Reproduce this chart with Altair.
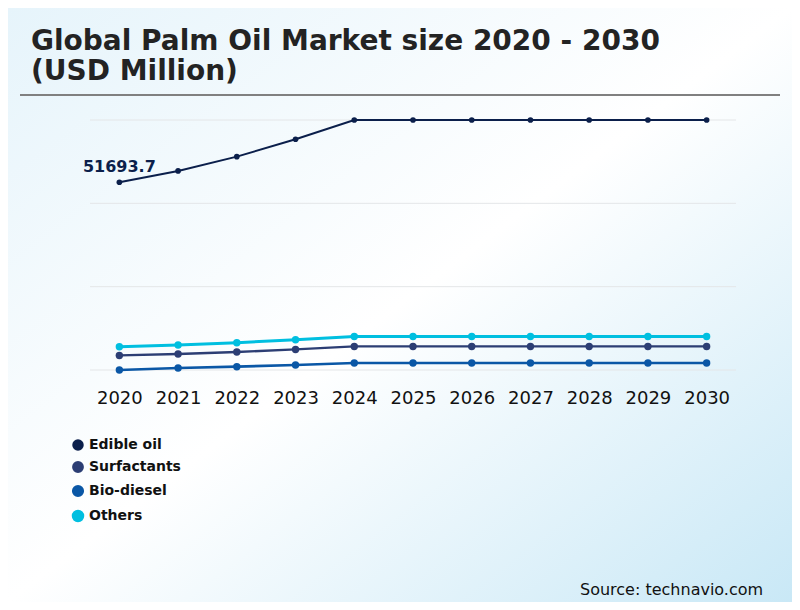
import altair as alt
import pandas as pd

years = ["2020", "2021", "2022", "2023", "2024", "2025", "2026", "2027", "2028", "2029", "2030"]
segments = ["Edible oil", "Surfactants", "Bio-diesel", "Others"]
edible_oil = [51693.7, 54695, 58476, 63076, 68179, 68179, 68179, 68179, 68179, 68179, 68179]
surfactants = [5860, 6230, 6759, 7447, 8240, 8240, 8240, 8240, 8240, 8240, 8240]
bio_diesel = [2000, 2529, 2873, 3322, 3851, 3851, 3851, 3851, 3851, 3851, 3851]
others = [8161, 8610, 9218, 10011, 10884, 10884, 10884, 10884, 10884, 10884, 10884]
colors = ["#0b1f4b", "#2c3e74", "#0a57a6", "#00bfe0"]
widths = [2, 3, 3, 3]
grid_values = [2000, 24060, 46120, 68180]

title_lines = ["Global Palm Oil Market size 2020 - 2030", "(USD Million)"]
source_text = "Source: technavio.com"

series = {"Edible oil": edible_oil, "Surfactants": surfactants,
          "Bio-diesel": bio_diesel, "Others": others}
rows = []
for seg, vals in series.items():
    for y, v in zip(years, vals):
        rows.append({"year": y, "segment": seg, "value": v})
df = pd.DataFrame(rows)
label_df = df[(df.segment == "Edible oil") & (df.year == "2020")]
grid_df = pd.DataFrame({"value": grid_values})

W, H = 646, 250
PL, PT, PR, PB = 82, 112, 56, 232

x_enc = alt.X("year:O", sort=years,
              scale=alt.Scale(type="point", padding=0.5),
              axis=alt.Axis(title=None, labelAngle=0, ticks=False, domain=False,
                            labelFontSize=18, labelColor="#111111", labelPadding=19,
                            labelFont="DejaVu Sans", grid=False, zindex=1))
y_scale = alt.Scale(domain=[grid_values[0], grid_values[-1]], nice=False, zero=False)
y_enc = alt.Y("value:Q", scale=y_scale, axis=None)
color_enc = alt.Color("segment:N", sort=segments,
                      scale=alt.Scale(domain=segments, range=colors),
                      legend=alt.Legend(title=None, orient="none", legendX=-19, legendY=318,
                                        symbolType="circle", symbolSize=90,
                                        labelFontSize=14, labelFontWeight="bold",
                                        labelFont="DejaVu Sans", labelColor="#111111",
                                        rowPadding=3, labelOffset=4))

bg = alt.Chart(pd.DataFrame({"a": [0]})).mark_rect(
    fill=alt.Gradient(gradient="linear", x1=0, y1=0, x2=1, y2=1,
                      stops=[alt.GradientStop(color="#e6f4fb", offset=0),
                             alt.GradientStop(color="#ffffff", offset=0.5),
                             alt.GradientStop(color="#c9e8f6", offset=1)])
).encode(x=alt.value(-PL), x2=alt.value(W + PR), y=alt.value(-PT), y2=alt.value(H + PB))

grid = alt.Chart(grid_df).mark_rule(color="#e4e6e8", strokeWidth=1).encode(
    y=alt.Y("value:Q", scale=y_scale, axis=None), x=alt.value(0), x2=alt.value(W))

lines = alt.Chart(df).mark_line().encode(
    x=x_enc, y=y_enc, color=color_enc,
    strokeWidth=alt.StrokeWidth("segment:N", scale=alt.Scale(domain=segments, range=widths), legend=None),
    order=alt.Order("year:O"),
)
points_big = alt.Chart(df).transform_filter(alt.datum.segment != "Edible oil").mark_circle(
    opacity=1, size=55).encode(x=x_enc, y=y_enc, color=color_enc)
points_small = alt.Chart(df).transform_filter(alt.datum.segment == "Edible oil").mark_circle(
    opacity=1, size=32).encode(x=x_enc, y=y_enc, color=color_enc)
label = alt.Chart(label_df).mark_text(
    fontSize=16, fontWeight="bold", font="DejaVu Sans", color="#0b1f4b",
    align="center", baseline="middle", dy=-15
).encode(x=x_enc, y=y_enc, text=alt.Text("value:Q", format=".1f"))

title1 = alt.Chart(pd.DataFrame({"t": [title_lines[0]]})).mark_text(
    fontSize=28, fontWeight="bold", font="DejaVu Sans", color="#232323",
    align="left", baseline="alphabetic"
).encode(x=alt.value(-59), y=alt.value(-70), text="t:N")
title2 = alt.Chart(pd.DataFrame({"t": [title_lines[1]]})).mark_text(
    fontSize=28, fontWeight="bold", font="DejaVu Sans", color="#232323",
    align="left", baseline="alphabetic"
).encode(x=alt.value(-59), y=alt.value(-40), text="t:N")
rule = alt.Chart(pd.DataFrame({"a": [0]})).mark_rule(color="#808080", strokeWidth=2).encode(
    x=alt.value(-70), x2=alt.value(690), y=alt.value(-25))
source = alt.Chart(pd.DataFrame({"t": [source_text]})).mark_text(
    fontSize=16, font="DejaVu Sans", color="#111111", align="left", baseline="middle"
).encode(x=alt.value(490), y=alt.value(470), text="t:N")

chart = alt.layer(bg, grid, rule, title1, title2, lines, points_big, points_small, label, source).properties(
    width=W, height=H, autosize="none",
    padding={"left": PL, "top": PT, "right": PR, "bottom": PB},
    background="#eef7fb",
).configure_view(stroke=None)

chart.save("out.html", embed_options={"renderer": "svg", "actions": False})
